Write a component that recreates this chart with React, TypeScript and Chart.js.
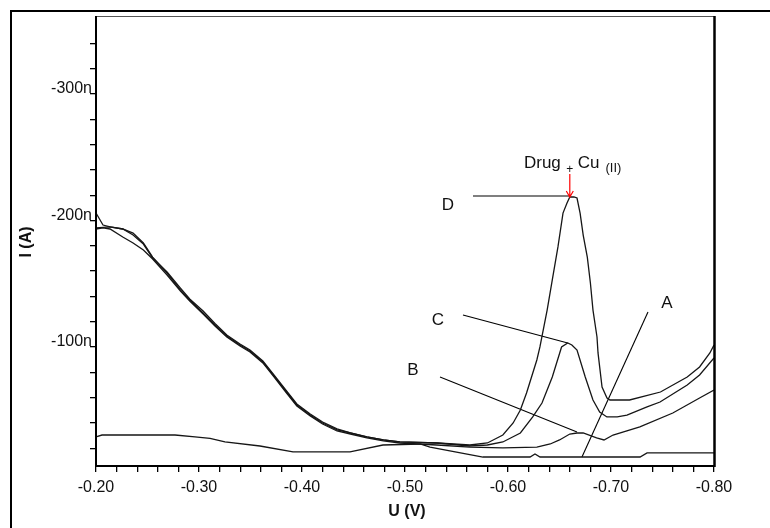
import React, { useEffect, useRef } from 'react';
import { Chart, registerables } from 'chart.js';

Chart.register(...registerables);

const FONT = '"Liberation Sans", Arial, Helvetica, sans-serif';

// ---- Curve A (blank) ----
const curveAVoltage = [-0.200, -0.2058, -0.2767, -0.2961, -0.3107, -0.3252, -0.3592, -0.3913, -0.4466, -0.4786, -0.5146, -0.5243, -0.5757, -0.6214, -0.6262, -0.6311, -0.7282, -0.735, -0.800];
const curveACurrent = [-28.9, -30.4, -30.4, -28.9, -27.7, -24.9, -21.7, -17.0, -17.0, -22.5, -23.3, -20.9, -13.0, -13.0, -15.4, -13.0, -13.0, -16.2, -16.2];

// ---- Curve B ----
const curveBVoltage = [-0.200, -0.2068, -0.2136, -0.226, -0.236, -0.246, -0.255, -0.269, -0.282, -0.291, -0.304, -0.3155, -0.327, -0.3398, -0.3495, -0.362, -0.372, -0.385, -0.395, -0.408, -0.420, -0.434, -0.447, -0.463, -0.479, -0.495, -0.531, -0.563, -0.595, -0.628, -0.641, -0.650, -0.660, -0.667, -0.673, -0.686, -0.6932, -0.702, -0.728, -0.760, -0.786, -0.800];
const curveBCurrent = [-193.3, -194.1, -193.3, -187.0, -182.2, -176.7, -169.6, -156.9, -144.3, -136.4, -126.1, -116.6, -108.0, -100.8, -96.0, -87.4, -77.1, -63.6, -53.4, -45.5, -39.1, -33.6, -31.2, -28.1, -25.7, -24.1, -22.5, -20.9, -20.2, -20.9, -23.3, -26.5, -31.2, -32.0, -32.0, -28.1, -26.5, -30.4, -36.8, -47.8, -59.7, -66.0];

// ---- Curve C ----
const curveCVoltage = [-0.200, -0.2068, -0.2136, -0.226, -0.236, -0.246, -0.255, -0.269, -0.282, -0.291, -0.304, -0.3155, -0.327, -0.3398, -0.3495, -0.362, -0.372, -0.385, -0.395, -0.408, -0.420, -0.434, -0.447, -0.463, -0.479, -0.495, -0.531, -0.563, -0.580, -0.595, -0.612, -0.624, -0.633, -0.643, -0.652, -0.658, -0.662, -0.667, -0.675, -0.6825, -0.689, -0.696, -0.706, -0.7155, -0.735, -0.7476, -0.774, -0.786, -0.800];
const curveCCurrent = [-205.9, -196.4, -194.9, -193.3, -188.5, -181.4, -170.3, -159.3, -146.6, -138.0, -128.5, -118.6, -109.5, -102.4, -97.6, -88.9, -78.7, -65.2, -54.9, -47.0, -40.7, -35.2, -32.0, -28.9, -26.5, -24.9, -24.1, -21.7, -22.5, -24.9, -32.0, -44.7, -55.7, -76.3, -100.0, -103.2, -101.6, -97.6, -76.3, -58.1, -48.6, -44.7, -44.7, -46.2, -52.6, -56.5, -70.0, -77.9, -91.3];

// ---- Curve D (Drug + Cu(II)) ----
const curveDVoltage = [-0.200, -0.2136, -0.226, -0.236, -0.246, -0.255, -0.269, -0.282, -0.291, -0.304, -0.3155, -0.327, -0.3398, -0.3495, -0.362, -0.372, -0.385, -0.395, -0.408, -0.420, -0.434, -0.447, -0.463, -0.479, -0.495, -0.531, -0.563, -0.580, -0.595, -0.605, -0.612, -0.618, -0.628, -0.631, -0.638, -0.643, -0.6485, -0.6534, -0.6573, -0.660, -0.664, -0.667, -0.670, -0.673, -0.677, -0.680, -0.6825, -0.6864, -0.6874, -0.6913, -0.6961, -0.699, -0.718, -0.748, -0.774, -0.786, -0.796, -0.800];
const curveDCurrent = [-194.1, -194.9, -193.3, -190.1, -182.2, -171.1, -158.5, -145.1, -137.2, -126.9, -117.4, -108.7, -101.6, -96.8, -88.1, -77.9, -64.4, -54.2, -46.2, -39.9, -34.4, -32.0, -28.9, -26.5, -24.9, -24.1, -22.5, -24.1, -30.4, -39.9, -50.2, -63.6, -89.7, -100.0, -129.2, -153.0, -179.1, -205.9, -213.8, -218.6, -218.6, -217.8, -205.9, -188.5, -171.1, -150.6, -129.2, -107.9, -95.3, -68.4, -59.7, -58.1, -58.1, -64.4, -76.3, -84.2, -95.3, -101.6];

// ---- Curve labels and their leader lines ----
const curveLabels = ['A', 'B', 'C', 'D'];
const labelVoltage = [-0.7544, -0.5078, -0.532, -0.5417];
const labelCurrent = [-134.8, -81.8, -121.3, -212.3];
const leaderStartVoltage = [-0.6718, -0.534, -0.5563, -0.566];
const leaderStartCurrent = [-13.0, -76.3, -125.3, -219.4];
const leaderEndVoltage = [-0.7359, -0.667, -0.658, -0.660];
const leaderEndCurrent = [-127.7, -32.8, -103.2, -219.4];

// ---- Peak annotation ----
const peakTextParts = ['Drug', '+', 'Cu', '(II)'];
const peakVoltage = -0.660;
const peakArrowTopCurrent = -236.8;
const peakArrowTipCurrent = -218.6;
const peakTextCurrent = -241.5;

// ---- Axes ----
const xMin = -0.8;
const xMax = -0.2;
const yMin = -361.7;
const yMax = -5.9;
const xMajorTicks = [-0.2, -0.3, -0.4, -0.5, -0.6, -0.7, -0.8];
const xTickLabels = ['-0.20', '-0.30', '-0.40', '-0.50', '-0.60', '-0.70', '-0.80'];
const xMinorStep = 0.02;
const yMajorTicks = [-300, -200, -100];
const yTickLabels = ['-300n', '-200n', '-100n'];
const yMinorStep = 20;
const yMinorFirst = -340;
const yMinorLast = -20;
const xTitle = 'U (V)';
const yTitle = 'I (A)';

const zip = (xs: number[], ys: number[]) => xs.map((x, i) => ({ x, y: ys[i] }));

const overlayPlugin = {
  id: 'overlay',
  afterDraw(chart: any) {
    const { ctx, chartArea: a, scales } = chart;
    const xs = scales.x;
    const ys = scales.y;
    ctx.save();
    // outer frame
    ctx.strokeStyle = '#000';
    ctx.lineWidth = 2;
    ctx.beginPath();
    ctx.moveTo(11, 528);
    ctx.lineTo(11, 11);
    ctx.lineTo(770, 11);
    ctx.stroke();
    // plot box
    ctx.strokeStyle = '#555';
    ctx.lineWidth = 1;
    ctx.beginPath();
    ctx.moveTo(a.left, a.top + 0.5);
    ctx.lineTo(a.right, a.top + 0.5);
    ctx.stroke();
    ctx.strokeStyle = '#000';
    ctx.lineWidth = 2;
    ctx.beginPath();
    ctx.moveTo(a.left, a.top);
    ctx.lineTo(a.left, a.bottom);
    ctx.lineTo(a.right, a.bottom);
    ctx.stroke();
    ctx.lineWidth = 2.5;
    ctx.beginPath();
    ctx.moveTo(a.right + 0.5, a.top);
    ctx.lineTo(a.right + 0.5, a.bottom + 1);
    ctx.stroke();

    // curve letters
    ctx.fillStyle = '#111';
    ctx.font = `17px ${FONT}`;
    ctx.textAlign = 'center';
    ctx.textBaseline = 'middle';
    curveLabels.forEach((t, i) => {
      ctx.fillText(t, xs.getPixelForValue(labelVoltage[i]), ys.getPixelForValue(labelCurrent[i]));
    });

    // peak annotation
    const px = xs.getPixelForValue(peakVoltage);
    const yTop = ys.getPixelForValue(peakArrowTopCurrent);
    const yTip = ys.getPixelForValue(peakArrowTipCurrent);
    const yText = ys.getPixelForValue(peakTextCurrent);
    ctx.strokeStyle = '#ff0000';
    ctx.lineWidth = 1.2;
    ctx.beginPath();
    ctx.moveTo(px, yTop);
    ctx.lineTo(px, yTip);
    ctx.moveTo(px - 3.5, yTip - 6);
    ctx.lineTo(px, yTip);
    ctx.lineTo(px + 3.5, yTip - 6);
    ctx.stroke();

    ctx.fillStyle = '#111';
    ctx.textBaseline = 'alphabetic';
    ctx.font = `17px ${FONT}`;
    ctx.textAlign = 'right';
    ctx.fillText(peakTextParts[0], px - 9, yText);
    ctx.font = `12px ${FONT}`;
    ctx.textAlign = 'center';
    ctx.fillText(peakTextParts[1], px, yText + 5);
    ctx.font = `17px ${FONT}`;
    ctx.textAlign = 'left';
    ctx.fillText(peakTextParts[2], px + 8, yText);
    const cuW = ctx.measureText(peakTextParts[2]).width;
    ctx.font = `13px ${FONT}`;
    ctx.fillText(peakTextParts[3], px + 8 + cuW + 6, yText + 4);

    // axis titles
    ctx.font = `bold 16px ${FONT}`;
    ctx.textAlign = 'center';
    ctx.textBaseline = 'middle';
    ctx.fillText(xTitle, (a.left + a.right) / 2 + 2, 512);
    ctx.translate(27, (a.top + a.bottom) / 2 + 1);
    ctx.rotate(-Math.PI / 2);
    ctx.fillText(yTitle, 0, 0);
    ctx.restore();
  },
};

const lineStyle = {
  showLine: true,
  pointRadius: 0,
  pointHoverRadius: 0,
  borderColor: '#161616',
  borderWidth: 1.3,
  tension: 0,
  fill: false,
};

export default function App() {
  const ref = useRef<HTMLCanvasElement | null>(null);

  useEffect(() => {
    if (!ref.current) return;
    const leaderSets = curveLabels.map((_, i) => ({
      ...lineStyle,
      borderWidth: 1.1,
      borderColor: '#000',
      data: [
        { x: leaderStartVoltage[i], y: leaderStartCurrent[i] },
        { x: leaderEndVoltage[i], y: leaderEndCurrent[i] },
      ],
    }));
    const chart = new Chart(ref.current, {
      type: 'scatter',
      data: {
        datasets: [
          { ...lineStyle, label: 'A', data: zip(curveAVoltage, curveACurrent) },
          { ...lineStyle, label: 'B', data: zip(curveBVoltage, curveBCurrent) },
          { ...lineStyle, label: 'C', data: zip(curveCVoltage, curveCCurrent) },
          { ...lineStyle, label: 'D', data: zip(curveDVoltage, curveDCurrent) },
          ...leaderSets,
        ],
      },
      options: {
        animation: false,
        responsive: false,
        events: [],
        layout: { padding: { left: 0, right: 56, top: 16, bottom: 0 } },
        plugins: { legend: { display: false }, tooltip: { enabled: false } },
        scales: {
          x: {
            type: 'linear',
            min: xMin,
            max: xMax,
            reverse: true,
            border: { display: false },
            grid: { display: true, drawOnChartArea: false, drawTicks: true, tickLength: 6, color: '#000', lineWidth: 1.3 },
            afterFit: (s: any) => { s.height = 62; },
            afterBuildTicks: (s: any) => {
              const n = Math.round((xMax - xMin) / xMinorStep);
              const t = [];
              for (let i = 0; i <= n; i++) t.push({ value: Math.round((xMin + i * xMinorStep) * 1000) / 1000 });
              s.ticks = t;
            },
            ticks: {
              autoSkip: false,
              maxRotation: 0,
              padding: 6,
              color: '#111',
              font: { family: FONT, size: 16 },
              callback: (v: any) => {
                const i = xMajorTicks.findIndex((m) => Math.abs(m - Number(v)) < 1e-6);
                return i >= 0 ? xTickLabels[i] : '';
              },
            },
          },
          y: {
            type: 'linear',
            min: yMin,
            max: yMax,
            reverse: true,
            border: { display: false },
            grid: { display: true, drawOnChartArea: false, drawTicks: true, tickLength: 6, color: '#000', lineWidth: 1.3 },
            afterFit: (s: any) => { s.width = 96; },
            afterBuildTicks: (s: any) => {
              const t = [];
              for (let v = yMinorFirst; v <= yMinorLast; v += yMinorStep) t.push({ value: v });
              s.ticks = t;
            },
            ticks: {
              autoSkip: false,
              padding: -2,
              labelOffset: -5,
              color: '#111',
              font: { family: FONT, size: 16 },
              callback: (v: any) => {
                const i = yMajorTicks.findIndex((m) => Math.abs(m - Number(v)) < 1e-6);
                return i >= 0 ? yTickLabels[i] : '';
              },
            },
          },
        },
      },
      plugins: [overlayPlugin],
    });
    return () => chart.destroy();
  }, []);

  return (
    <div style={{ position: 'absolute', left: 0, top: 0, width: 770, height: 528, background: '#fff' }}>
      <canvas ref={ref} width={770} height={528} style={{ display: 'block', width: 770, height: 528 }} />
    </div>
  );
}
